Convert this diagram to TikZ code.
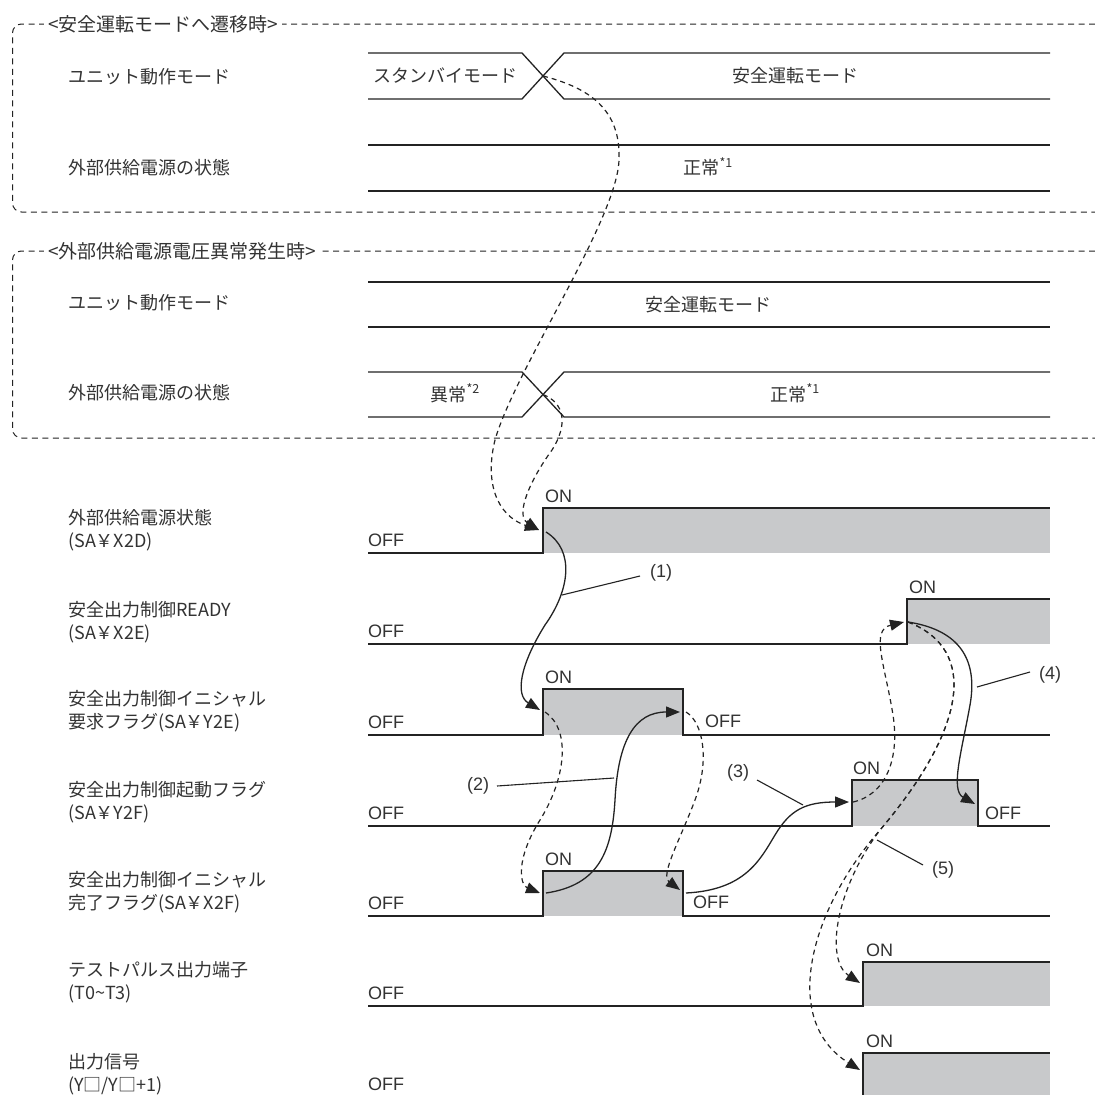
\documentclass[tikz,border=0pt]{standalone}
\usepackage{fontspec}
\setmainfont{Liberation Sans}
\newfontfamily\jp{Noto Sans CJK JP}
\usetikzlibrary{arrows.meta}
\definecolor{tc}{RGB}{51,51,51}
\definecolor{lc}{RGB}{35,35,35}
\definecolor{fillg}{RGB}{200,201,203}
\newcommand\mysup[1]{\raisebox{7.5pt}{\fontsize{12.5}{12.5}\selectfont #1}}
\begin{document}
\begin{tikzpicture}[x=1pt,y=-1pt,
  jtxt/.style={font=\jp\fontsize{18}{22}\selectfont, text=tc, inner sep=0pt, anchor=base west},
  ctxt/.style={font=\jp\fontsize{18}{22}\selectfont, text=tc, inner sep=0pt, anchor=base},
  ltxt/.style={font=\fontsize{18}{20}\selectfont, text=tc, inner sep=0pt, anchor=base west},
  ntxt/.style={font=\fontsize{18}{20}\selectfont, text=tc, inner sep=0pt},
  ttl/.style={font=\jp\fontsize{19}{22}\selectfont, text=tc, fill=white, inner xsep=4pt, inner ysep=2pt, anchor=west},
  grp/.style={draw=lc, line width=1pt, dash pattern=on 6pt off 4.5pt, rounded corners=9pt},
  bus/.style={draw=lc, line width=1.3pt},
  wave/.style={draw=lc, line width=1.4pt},
  gfill/.style={fill=fillg},
  dcon/.style={draw=lc, line width=1.2pt, dash pattern=on 5pt off 4pt, -{Triangle[length=14pt,width=11pt]}},
  scon/.style={draw=lc, line width=1.3pt, -{Triangle[length=14pt,width=11pt]}},
  lead/.style={draw=lc, line width=1.1pt},
]
\useasboundingbox (0,0) rectangle (1095,1095);
\fill[white] (0,0) rectangle (1095,1095);

% ---------- group 1 ----------
\draw[grp] (1095,24) -- (12.5,24) -- (12.5,212) -- (1095,212);
\node[ttl] (t1) at (44,24) {<安全運転モードへ遷移時>};
\node[jtxt] (g1a) at (68,83.5) {ユニット動作モード};
\node[jtxt] (g1b) at (68,174.5) {外部供給電源の状態};
\draw[bus] (368,53) -- (522,53) -- (564,99) -- (1050,99);
\draw[bus] (368,99) -- (522,99) -- (564,53) -- (1050,53);
\draw[bus] (368,145) -- (1050,145);
\draw[bus] (368,191) -- (1050,191);
\node[ctxt] (s1a) at (445,82.5) {スタンバイモード};
\node[ctxt] (s1b) at (795,82.5) {安全運転モード};
\node[ctxt] (s1c) at (708,174.5) {正常\mysup{*1}};

% ---------- group 2 ----------
\draw[grp] (1095,251) -- (12.5,251) -- (12.5,438) -- (1095,438);
\node[ttl] (t2) at (44,251) {<外部供給電源電圧異常発生時>};
\node[jtxt] (g2a) at (68,309.5) {ユニット動作モード};
\node[jtxt] (g2b) at (68,399.5) {外部供給電源の状態};
\draw[bus] (368,282) -- (1050,282);
\draw[bus] (368,327) -- (1050,327);
\draw[bus] (368,372) -- (522,372) -- (564,417) -- (1050,417);
\draw[bus] (368,417) -- (522,417) -- (564,372) -- (1050,372);
\node[ctxt] (s2a) at (708,311) {安全運転モード};
\node[ctxt] (s2b) at (455,401) {異常\mysup{*2}};
\node[ctxt] (s2c) at (795,401) {正常\mysup{*1}};

% ---------- timing labels ----------
\node[jtxt] (l1a) at (68,524.5) {外部供給電源状態};
\node[jtxt] (l1b) at (68,547.5) {(SA￥X2D)};
\node[jtxt] (l2a) at (68,616.5) {安全出力制御READY};
\node[jtxt] (l2b) at (68,639.5) {(SA￥X2E)};
\node[jtxt] (l3a) at (68,705.5) {安全出力制御イニシャル};
\node[jtxt] (l3b) at (68,728.5) {要求フラグ(SA￥Y2E)};
\node[jtxt] (l4a) at (68,796.5) {安全出力制御起動フラグ};
\node[jtxt] (l4b) at (68,819.5) {(SA￥Y2F)};
\node[jtxt] (l5a) at (68,886.5) {安全出力制御イニシャル};
\node[jtxt] (l5b) at (68,909.5) {完了フラグ(SA￥X2F)};
\node[jtxt] (l6a) at (68,976.5) {テストパルス出力端子};
\node[jtxt] (l6b) at (68,999.5) {(T0\textasciitilde T3)};
\node[jtxt] (l7a) at (68,1068.5) {出力信号};
\node[jtxt] (l7b) at (68,1091.5) {(Y□/Y□+1)};

% ---------- waveforms ----------
\fill[gfill] (543,508) rectangle (1050,553);
\draw[wave] (368,553) -- (543,553) -- (543,508) -- (1050,508);
\fill[gfill] (907,599) rectangle (1050,644);
\draw[wave] (368,644) -- (907,644) -- (907,599) -- (1050,599);
\fill[gfill] (543,689) rectangle (683,735);
\draw[wave] (368,735) -- (543,735) -- (543,689) -- (683,689) -- (683,735) -- (1050,735);
\fill[gfill] (852,780) rectangle (978,826);
\draw[wave] (368,826) -- (852,826) -- (852,780) -- (978,780) -- (978,826) -- (1050,826);
\fill[gfill] (543,871) rectangle (683,916);
\draw[wave] (368,916) -- (543,916) -- (543,871) -- (683,871) -- (683,916) -- (1050,916);
\fill[gfill] (863,962) rectangle (1050,1006);
\draw[wave] (368,1006) -- (863,1006) -- (863,962) -- (1050,962);
\fill[gfill] (863,1053) rectangle (1050,1100);
\draw[wave] (368,1097) -- (863,1097) -- (863,1053) -- (1050,1053);

% ON / OFF labels
\node[ltxt] (o1) at (368,546) {OFF};
\node[ltxt] (n1) at (545,502) {ON};
\node[ltxt] (o2) at (368,637) {OFF};
\node[ltxt] (n2) at (909,593) {ON};
\node[ltxt] (o3) at (368,728) {OFF};
\node[ltxt] (n3) at (545,683) {ON};
\node[ltxt] (f3) at (705,727) {OFF};
\node[ltxt] (o4) at (368,819) {OFF};
\node[ltxt] (n4) at (853,774) {ON};
\node[ltxt] (f4) at (985,819) {OFF};
\node[ltxt] (o5) at (368,909) {OFF};
\node[ltxt] (n5) at (545,865) {ON};
\node[ltxt] (f5) at (693,908) {OFF};
\node[ltxt] (o6) at (368,999) {OFF};
\node[ltxt] (n6) at (866,956) {ON};
\node[ltxt] (o7) at (368,1090) {OFF};
\node[ltxt] (n7) at (866,1047) {ON};

% ---------- connector anchors ----------
\coordinate (xA) at (543,76);
\coordinate (xB) at (543,394.5);
\coordinate (x2dR) at (539,530);
\coordinate (x2dS) at (546,532);
\coordinate (y2eR) at (540,710);
\coordinate (y2eS) at (545,712);
\coordinate (y2eF) at (680,712);
\coordinate (y2eG) at (686,712);
\coordinate (x2fR) at (540,893);
\coordinate (x2fS) at (546,893);
\coordinate (x2fF) at (680,890);
\coordinate (x2fG) at (686,893);
\coordinate (y2fR) at (849,802);
\coordinate (y2fS) at (853,802);
\coordinate (y2fF) at (975,804);
\coordinate (rdyR) at (904,622);
\coordinate (rdyS) at (908,622);
\coordinate (tR) at (860,983);
\coordinate (yR) at (860,1070);

% dashed connectors
\draw[dcon] (xA) .. controls (590,88) and (621,110) .. (619,160) .. controls (617,220) and (515,370) .. (495,440) .. controls (485,480) and (495,515) .. (x2dR);
\draw[dcon] (xB) .. controls (565,403) and (568,425) .. (552,450) .. controls (530,480) and (515,515) .. (x2dR);
\draw[dcon] (y2eS) .. controls (572,730) and (565,780) .. (540,820) .. controls (515,860) and (520,885) .. (x2fR);
\draw[dcon] (y2eG) .. controls (703,722) and (710,760) .. (695,800) .. controls (680,840) and (660,875) .. (x2fF);
\draw[dcon] (y2fS) .. controls (885,795) and (900,760) .. (893,715) .. controls (885,665) and (870,630) .. (rdyR);
\draw[dcon] (rdyS) .. controls (980,650) and (965,730) .. (880,830) .. controls (835,890) and (825,960) .. (tR);
\draw[dcon] (rdyS) .. controls (980,650) and (965,730) .. (880,830) .. controls (810,910) and (780,1020) .. (yR);

% solid connectors
\draw[scon] (x2dS) .. controls (575,550) and (570,590) .. (545,625) .. controls (520,665) and (515,695) .. (y2eR);
\draw[scon] (x2fS) .. controls (600,885) and (612,850) .. (615,800) .. controls (618,740) and (635,712) .. (y2eF);
\draw[scon] (x2fG) .. controls (745,890) and (760,860) .. (775,835) .. controls (790,810) and (805,802) .. (y2fR);
\draw[scon] (rdyS) .. controls (960,630) and (978,660) .. (970,705) .. controls (962,750) and (950,790) .. (y2fF);

% callouts
\node[ntxt] (c1) at (661,573) {(1)};
\node[ntxt] (c2) at (478,786) {(2)};
\node[ntxt] (c3) at (738,773) {(3)};
\node[ntxt] (c4) at (1050,675) {(4)};
\node[ntxt] (c5) at (943,870) {(5)};
\coordinate (p1) at (562,595);
\coordinate (p2) at (614,778);
\coordinate (p3) at (803,805);
\coordinate (p4) at (977,687);
\coordinate (p5) at (877,840);
\draw[lead] (p1) -- (640,576);
\draw[lead] (p2) -- (497,786);
\draw[lead] (p3) -- (757,780);
\draw[lead] (p4) -- (1030,672);
\draw[lead] (p5) -- (923,865);
\end{tikzpicture}
\end{document}
